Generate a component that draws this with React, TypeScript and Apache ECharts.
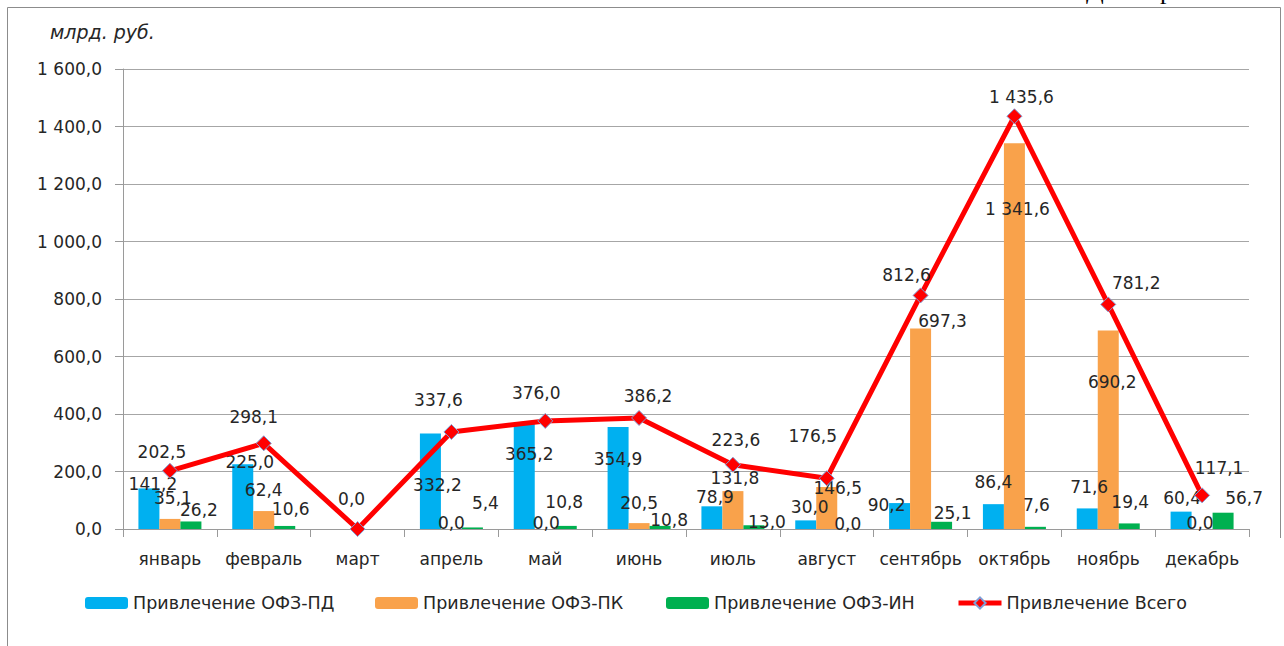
import React, { useEffect, useRef } from "react";
import * as echarts from "echarts";

const months = ["январь", "февраль", "март", "апрель", "май", "июнь", "июль", "август", "сентябрь", "октябрь", "ноябрь", "декабрь"];
const ofzPD: (number | null)[] = [141.2, 225.0, null, 332.2, 365.2, 354.9, 78.9, 30.0, 90.2, 86.4, 71.6, 60.4];
const ofzPK: (number | null)[] = [35.1, 62.4, null, 0.0, 0.0, 20.5, 131.8, 146.5, 697.3, 1341.6, 690.2, 0.0];
const ofzIN: (number | null)[] = [26.2, 10.6, null, 5.4, 10.8, 10.8, 13.0, 0.0, 25.1, 7.6, 19.4, 56.7];
const totalAll: number[] = [202.5, 298.1, 0.0, 337.6, 376.0, 386.2, 223.6, 176.5, 812.6, 1435.6, 781.2, 117.1];
const seriesNames = ["Привлечение ОФЗ-ПД", "Привлечение ОФЗ-ПК", "Привлечение ОФЗ-ИН", "Привлечение Всего"];
const unitLabel = "млрд. руб.";
const yMin = 0;
const yMax = 1600;
const yStep = 200;

// label placement (offset of label centre from bar top / point), layout only
const offPD = [[4, -4], [7, -2], [0, 0], [7, 52], [5, 30], [0, 32], [3, -9], [4, -13], [-13, 2], [0, -22], [2, -21], [1, -14]];
const offPK = [[3, -21], [0, -21], [0, 0], [0, -6], [1, -6], [0, -20], [2, -13], [11, 1], [22, -8], [3, 66], [4, 51], [-2, -6]];
const offIN = [[8, -11], [6, -17], [0, 0], [13, -24], [-2, -24], [9, -6], [13, -3], [0, -5], [11, -9], [1, -22], [1, -21], [21, -15]];
const offTot = [[-8, -19], [-10, -26], [-6, -30], [-13, -32], [-9, -28], [9, -22], [3, -25], [-14, -42], [-14, -20], [7, -19], [28, -21], [17, -27]];

const FONT = "DejaVu Sans";
const TXT = "#262626";

const fmt = (v: number) => {
  const [i, d] = v.toFixed(1).split(".");
  return i.replace(/\B(?=(\d{3})+(?!\d))/g, " ") + "," + d;
};

const barData = (vals: (number | null)[], offs: number[][]) =>
  vals.map((v, i) =>
    v === null
      ? "-"
      : { value: v, label: { offset: offs[i] } }
  );

export default function App() {
  const ref = useRef<HTMLDivElement>(null);
  useEffect(() => {
    if (!ref.current) return;
    const chart = echarts.init(ref.current, undefined, { renderer: "svg" });
    const labelBase = {
      show: true,
      position: ["50%", 0],
      align: "center",
      verticalAlign: "middle",
      distance: 0,
      fontFamily: FONT,
      fontSize: 17,
      color: TXT,
      formatter: (p: any) => fmt(Number(p.value)),
    };
    const barCommon = {
      type: "bar",
      barWidth: 21,
      barGap: "0%",
      label: labelBase,
    };
    const legendText = { fontFamily: FONT, fontSize: 17.5, color: TXT };
    const mkLegend = (name: string, left: number, extra: any = {}) => ({
      data: [name],
      left,
      top: 594,
      itemWidth: 43,
      itemHeight: 12,
      itemGap: 0,
      padding: 0,
      textStyle: legendText,
      ...extra,
    });
    chart.setOption({
      animation: false,
      backgroundColor: "#ffffff",
      grid: { left: 123, right: 35, top: 69, bottom: 117 },
      legend: [
        mkLegend(seriesNames[0], 85),
        mkLegend(seriesNames[1], 375),
        mkLegend(seriesNames[2], 666),
        mkLegend(seriesNames[3], 956, { lineStyle: { width: 5, color: "#FF0000" }, itemHeight: 14 }),
      ],
      xAxis: {
        type: "category",
        data: months,
        axisLine: { lineStyle: { color: "#9a9a9a", width: 1 } },
        axisTick: { show: true, length: 8, lineStyle: { color: "#9a9a9a" } },
        axisLabel: { fontFamily: FONT, fontSize: 17, color: TXT, margin: 21, interval: 0 },
      },
      yAxis: {
        type: "value",
        min: yMin,
        max: yMax,
        interval: yStep,
        axisLine: { show: true, lineStyle: { color: "#9a9a9a", width: 1 } },
        axisTick: { show: true, length: 8, lineStyle: { color: "#9a9a9a" } },
        splitLine: { show: true, lineStyle: { color: "#a6a6a6", width: 1 } },
        axisLabel: {
          fontFamily: FONT,
          fontSize: 17,
          color: TXT,
          margin: 21,
          formatter: (v: number) => fmt(v),
        },
      },
      series: [
        { ...barCommon, name: seriesNames[0], itemStyle: { color: "#00B0F0" }, data: barData(ofzPD, offPD) },
        { ...barCommon, name: seriesNames[1], itemStyle: { color: "#F9A24B" }, data: barData(ofzPK, offPK) },
        { ...barCommon, name: seriesNames[2], itemStyle: { color: "#00B050" }, data: barData(ofzIN, offIN) },
        {
          type: "line",
          name: seriesNames[3],
          z: 5,
          symbol: "diamond",
          symbolSize: 15,
          lineStyle: { color: "#FF0000", width: 5 },
          itemStyle: { color: "#FF0000", borderColor: "#7f9fd6", borderWidth: 1 },
          label: { ...labelBase, position: ["50%", "50%"] },
          data: totalAll.map((v, i) => ({ value: v, label: { offset: offTot[i] } })),
        },
      ],
      graphic: [
        {
          type: "line",
          shape: { x1: 7.5, y1: 7.5, x2: 7.5, y2: 646 },
          style: { stroke: "#8c8c8c", lineWidth: 1 },
        },
        {
          type: "line",
          shape: { x1: 7.5, y1: 7.5, x2: 1280.5, y2: 7.5 },
          style: { stroke: "#8c8c8c", lineWidth: 1 },
        },
        {
          type: "line",
          shape: { x1: 1280.5, y1: 7.5, x2: 1280.5, y2: 538 },
          style: { stroke: "#8c8c8c", lineWidth: 1 },
        },
        {
          type: "text",
          left: 50,
          top: 22,
          style: { text: unitLabel, font: `italic 19px "${FONT}"`, fill: TXT },
        },
        {
          type: "text",
          x: 1086,
          y: -10,
          style: { text: "Д", font: `26px "Liberation Serif"`, fill: "#000", verticalAlign: "middle" },
        },
        {
          type: "text",
          x: 1160,
          y: -10,
          style: { text: "р", font: `26px "Liberation Serif"`, fill: "#000", verticalAlign: "middle" },
        },
      ],
    });
    return () => chart.dispose();
  }, []);
  return (
    <div
      ref={ref}
      style={{ position: "absolute", left: 0, top: 0, width: 1284, height: 646, background: "#fff" }}
    />
  );
}
